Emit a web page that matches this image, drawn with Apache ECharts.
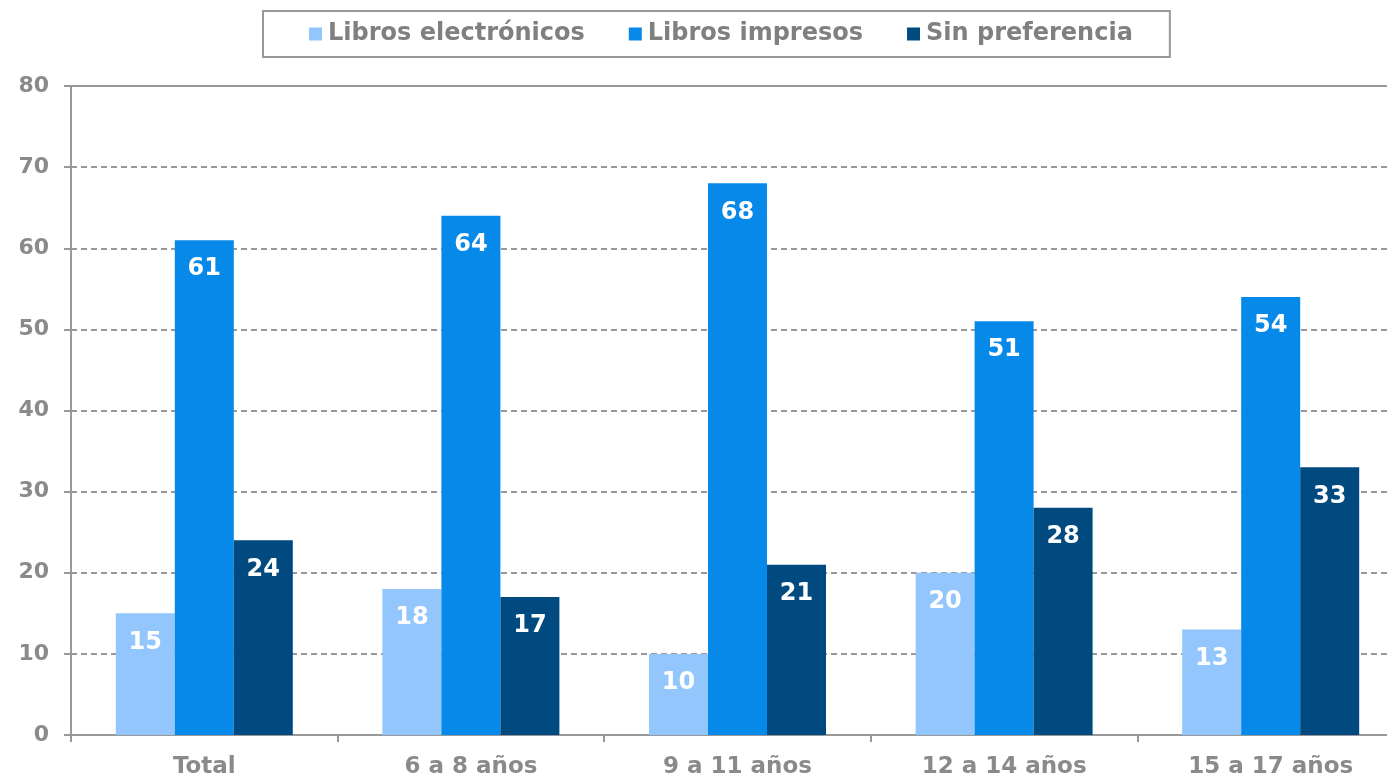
<!DOCTYPE html>
<html>
<head>
<meta charset="utf-8">
<script src="https://cdn.jsdelivr.net/npm/echarts@6/dist/echarts.min.js"></script>
<style>html,body{margin:0;padding:0;background:#fff;overflow:hidden;}#c{width:1420px;height:779px;}</style>
</head>
<body>
<div id="c"></div>
<script>
const categories = ['Total', '6 a 8 años', '9 a 11 años', '12 a 14 años', '15 a 17 años'];
const seriesNames = ['Libros electrónicos', 'Libros impresos', 'Sin preferencia'];
const electronicos = [15, 18, 10, 20, 13];
const impresos = [61, 64, 68, 51, 54];
const sinPreferencia = [24, 17, 21, 28, 33];
const yTicks = { min: 0, max: 80, interval: 10 };

const colors = ['#92C6FC', '#0689E8', '#004A80'];
const font = 'DejaVu Sans, Verdana, sans-serif';
const gray = '#8a8a8a';

function bar(name, data, color) {
  return {
    name: name, type: 'bar', data: data, barWidth: 59, barGap: '0%',
    itemStyle: { color: color },
    label: { show: true, position: 'insideTop', distance: 17, color: '#fff',
      fontFamily: font, fontWeight: 'bold', fontSize: 24 }
  };
}

const chart = echarts.init(document.getElementById('c'), null, { renderer: 'canvas' });
chart.setOption({
  animation: false,
  backgroundColor: '#fff',
  color: colors,
  legend: {
    data: seriesNames,
    left: 263, top: 11,
    padding: [11, 37, 11, 46],
    borderColor: '#999', borderWidth: 2,
    itemWidth: 13, itemHeight: 13, itemGap: 44,
    icon: 'rect',
    textStyle: { fontFamily: font, fontWeight: 'bold', fontSize: 24, color: '#808080', padding: [0, 0, 0, 1] }
  },
  grid: { left: 71, top: 86, height: 649, width: 1333, outerBoundsMode: 'none', show: true, borderColor: '#999', borderWidth: 2, containLabel: false },
  xAxis: {
    type: 'category', data: categories,
    axisLine: { lineStyle: { color: '#999', width: 2 } },
    axisTick: { show: true, length: 7, lineStyle: { color: '#999', width: 2 } },
    axisLabel: { color: gray, fontFamily: font, fontWeight: 'bold', fontSize: 23, margin: 21 }
  },
  yAxis: {
    type: 'value', min: yTicks.min, max: yTicks.max, interval: yTicks.interval,
    axisLine: { show: true, lineStyle: { color: '#999', width: 2 } },
    axisTick: { show: true, length: 7, lineStyle: { color: '#999', width: 2 } },
    axisLabel: { color: gray, fontFamily: font, fontWeight: 'bold', fontSize: 22, margin: 22 },
    splitLine: { lineStyle: { color: '#999', width: 2, type: [6, 4] } }
  },
  series: [
    bar(seriesNames[0], electronicos, colors[0]),
    bar(seriesNames[1], impresos, colors[1]),
    bar(seriesNames[2], sinPreferencia, colors[2])
  ]
});
</script>
</body>
</html>
